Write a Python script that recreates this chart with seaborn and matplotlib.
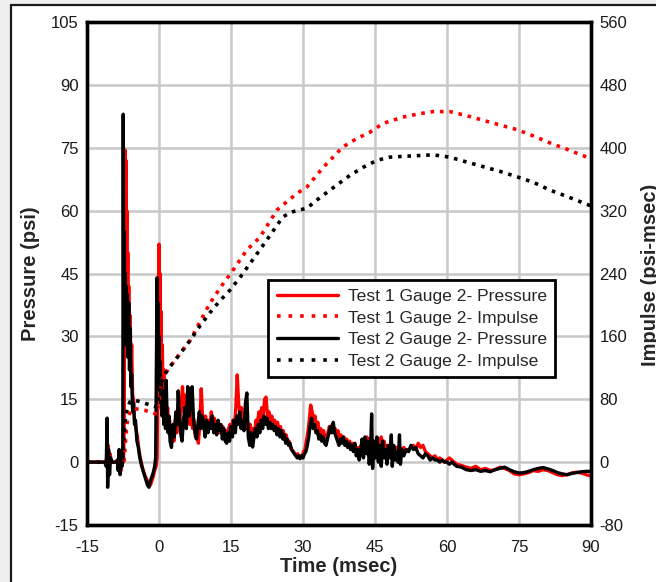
import matplotlib
matplotlib.use("Agg")
import matplotlib.pyplot as plt
from matplotlib.patches import Rectangle
from matplotlib.lines import Line2D
import seaborn as sns
import pandas as pd

# ---------------- data ----------------
t2_time = [-15, -11.3, -11.0, -10.8, -10.7, -10.5, -10.3, -10.1, -9.8, -9.0, -8.7, -8.5, -8.3, -8.1, -7.9, -7.7, -7.55,
           -7.45, -7.35, -7.25, -7.15, -7.05, -6.95, -6.85, -6.75, -6.6, -6.45, -6.3, -6.15, -6.0, -5.85, -5.7, -5.5, -5.3,
           -5.1, -4.9, -4.6, -4.3, -4.0, -3.6, -3.2, -2.8, -2.4, -2.1, -1.8, -1.5, -1.2, -0.9, -0.7,
           -0.6, -0.5, -0.4, -0.3, -0.2, -0.1, 0.0, 0.1, 0.2, 0.35, 0.5, 0.65, 0.8, 1.0, 1.2, 1.35, 1.5, 1.7, 1.9, 2.1,
           2.3, 2.6, 2.9, 3.2, 3.5, 3.8, 4.0, 4.2, 4.5, 4.8, 5.1, 5.4, 5.7, 6.0, 6.3, 6.6, 6.9, 7.2, 7.5, 7.8, 8.1, 8.4,
           8.7, 9.0, 9.3, 9.6, 9.9, 10.2, 10.5, 10.8, 11.1, 11.4, 11.7, 12.0, 12.3, 12.6, 12.9, 13.2, 13.5, 13.8, 14.1,
           14.4, 14.7, 15.0, 15.3, 15.6, 15.9, 16.2, 16.5, 16.8, 17.1, 17.4, 17.7, 18.0, 18.3, 18.6, 18.9, 19.2, 19.5,
           19.8, 20.1, 20.4, 20.7, 21.0, 21.3, 21.6, 21.9, 22.2, 22.5, 22.8, 23.1, 23.4, 23.7, 24.0, 24.3, 24.6, 24.9,
           25.2, 25.5, 25.8, 26.1, 26.4, 26.7, 27.0, 27.3, 27.6, 27.9, 28.2, 28.5, 28.8, 29.1, 29.4, 29.7, 30.0, 30.3,
           30.6, 30.9, 31.2, 31.5, 31.8, 32.1, 32.4, 32.7, 33.0, 33.3, 33.6, 33.9, 34.2, 34.5, 34.8, 35.1, 35.4, 35.7,
           36.0, 36.3, 36.6, 36.9, 37.2, 37.5, 37.8, 38.1, 38.4, 38.7, 39.0, 39.3, 39.6, 39.9, 40.2, 40.5, 40.8, 41.1,
           41.4, 41.7, 42.0, 42.3, 42.6, 42.9, 43.2, 43.5, 43.8, 44.1, 44.3, 44.5, 44.8, 45.1, 45.4, 45.7, 46.0, 46.3,
           46.6, 46.9, 47.2, 47.5, 47.8, 48.1, 48.4, 48.6, 48.9, 49.2, 49.5, 49.8, 50.1, 50.3, 50.6, 51.0, 51.5, 52.0,
           52.5, 53.0, 53.5, 54.0, 54.5, 55.0, 55.5, 56.0, 56.5, 57.0, 57.5, 58.0, 58.5, 59.0, 59.5, 60.0, 60.5, 61,
           61.5, 62, 63, 64, 65, 66, 67, 68, 69, 70, 71, 72, 73, 74, 75, 76, 77, 78, 79, 80, 81, 82, 83, 84, 85, 86,
           87, 88, 89, 90]
t2_pressure = [0, 0, -1, 10.5, -6, 3, -3, 1, 0, 0, 0.5, -2, 3, -3, 2, -1, 1,
               83, 30, 55, 35, 45, 28, 42, 30, 40, 25, 38, 22, 32, 18, 21, 12, 14,
               9, 10, 5, 3.5, 1, -1, -2.5, -4, -5.5, -6, -4.5, -3.5, -2.5, -1, 1,
               16, 32, 44, 30, 38, 22, 30, 18, 24, 14, 20, 11, 17, 9, 13, 8, 19.5, 10, 7, 11,
               5, 3.5, 9, 6, 12, 9, 17, 12, 7, 5, 10, 13, 8, 18, 11, 15, 18, 10, 7, 5.5, 9, 12,
               8, 11, 9, 6, 10, 7, 9.5, 8, 11, 7, 9, 6.5, 10, 7.5, 9, 5.5, 8, 5, 4.5,
               7, 5, 8.5, 6, 10, 7, 11, 9, 12, 8, 10, 7.5, 14, 16.5, 6, 4, 7, 3.6,
               6, 8, 6, 9, 7, 10, 8, 11, 9, 10.5, 8, 9.5, 8, 9, 7.5, 8.5, 6.5, 8,
               6, 7.5, 5.5, 6.5, 4.5, 5.5, 4, 4.5, 3, 2.5, 2, 1.5, 1, 1.5, 0.8, 1.5, 1, 2,
               2.5, 4, 6, 9, 10.5, 8, 9, 7, 7.5, 5.5, 6.5, 5, 6, 4.5, 4, 5.5, 7, 8.5,
               7, 9.5, 7, 6, 5, 4, 5.5, 4.5, 6, 4, 5, 3.5, 4.5, 3, 4, 2.5, 4.5, 1.5,
               3, 0.5, 2.5, 5.5, 1, 6, 2, 5, -0.5, 4, 11.5, -1.5, 5, 1, 6, 0, 4, -1,
               5, 1, 3, -0.5, 4, 1, 6.5, -1, 4, 0.5, 2.5, 0, 6.5, -0.5, 3, 1.5, 3, 2.5,
               4, 3, 3.5, 2, 1.5, 1, 2, 1.5, 0.5, 1, 0.5, 0.5, 0, 0.5, 0, 0, -0.5, 0,
               -0.5, -1, -1.2, -1.8, -2, -1.8, -2.2, -2, -2.3, -1.8, -1.5, -1.2, -1.8, -2.3, -2.6, -2.5, -2.2, -1.8,
               -1.5, -1.3, -1.6, -2, -2.5, -2.8, -3, -2.7, -2.5, -2.3, -2.2, -2.2]

t1_time = [-15, -11, -10.6, -10.4, -10.2, -9.9, -8.5, -8.2, -7.9, -7.6, -7.4, -7.25,
           -7.1, -7.0, -6.9, -6.8, -6.7, -6.6, -6.5, -6.4, -6.3, -6.15, -6.0, -5.85, -5.7, -5.5, -5.3, -5.1, -4.8,
           -4.5, -4.2, -3.8, -3.4, -3.0, -2.6, -2.2, -1.8, -1.5, -1.2, -0.9, -0.6, -0.4,
           -0.25, -0.1, 0.0, 0.1, 0.2, 0.3, 0.4, 0.55, 0.7, 0.85, 1.0, 1.2, 1.4, 1.6, 1.8, 2.0, 2.2, 2.5, 2.8, 3.1,
           3.4, 3.7, 4.0, 4.3, 4.6, 4.9, 5.2, 5.5, 5.8, 6.1, 6.4, 6.7, 7.0, 7.3, 7.6, 7.9, 8.2, 8.5, 8.8, 9.1, 9.4,
           9.7, 10.0, 10.3, 10.6, 10.9, 11.2, 11.5, 11.8, 12.1, 12.4, 12.7, 13.0, 13.3, 13.6, 13.9, 14.2, 14.5, 14.8,
           15.1, 15.4, 15.7, 16.0, 16.3, 16.6, 16.9, 17.2, 17.5, 17.8, 18.1, 18.4, 18.7, 19.0, 19.3, 19.6, 19.9, 20.2,
           20.5, 20.8, 21.1, 21.4, 21.7, 22.0, 22.3, 22.6, 22.9, 23.2, 23.5, 23.8, 24.1, 24.4, 24.7, 25.0, 25.3, 25.6,
           25.9, 26.2, 26.5, 26.8, 27.1, 27.4, 27.7, 28.0, 28.3, 28.6, 28.9, 29.2, 29.5, 29.8, 30.1, 30.4, 30.7, 31.0,
           31.3, 31.6, 31.9, 32.2, 32.5, 32.8, 33.1, 33.4, 33.7, 34.0, 34.3, 34.6, 34.9, 35.2, 35.5, 35.8, 36.1, 36.4,
           36.7, 37.0, 37.3, 37.6, 37.9, 38.2, 38.5, 38.8, 39.1, 39.4, 39.7, 40.0, 40.3, 40.6, 40.9, 41.2, 41.5, 41.8,
           42.1, 42.4, 42.7, 43.0, 43.3, 43.6, 43.9, 44.2, 44.5, 44.8, 45.1, 45.4, 45.7, 46.0, 46.3, 46.6, 46.9, 47.2,
           47.5, 47.8, 48.1, 48.4, 48.7, 49, 49.5, 50, 50.5, 51, 51.5, 52, 52.5, 53, 53.5, 54, 54.5, 55, 55.5, 56,
           56.5, 57, 57.5, 58, 58.5, 59, 59.5, 60, 60.5, 61, 61.5, 62, 63, 64, 65, 66, 67, 68, 69, 70, 71, 72, 73, 74,
           75, 76, 77, 78, 79, 80, 81, 82, 83, 84, 85, 86, 87, 88, 89, 90]
t1_pressure = [0, 0, 4, -2, 2, 0, 0, 2, -2, 3, 0, 8,
               74.5, 50, 72, 45, 60, 38, 50, 32, 42, 28, 35, 22, 28, 16, 14.8, 10, 8,
               6, 3, 0.5, -1.5, -3, -4, -5, -5.5, -4.5, -3.5, -2, -1, 1,
               20, 40, 52, 35, 45, 28, 36, 20, 28, 15, 22, 12, 16, 9, 13, 7, 10, 4.5, 8, 5,
               10, 7, 12, 9, 14, 18, 12, 16, 10, 13, 9, 12, 8, 10, 6, 8, 4.5, 9, 17.5, 10, 8,
               11, 7.5, 10, 8, 12, 9, 10.5, 8, 9.5, 7, 9, 7, 8.5, 6, 7.5, 6, 8, 9,
               7, 10, 8, 13, 20.8, 14, 11, 13, 9, 11, 8, 10, 7, 9, 6, 8, 7, 10,
               9, 12, 10, 13, 11, 15, 15.5, 11, 12, 10, 11, 9, 10, 8.5, 9.5, 7.5, 8.5, 6.5,
               7.5, 5.5, 6.5, 4.5, 5, 3.5, 3, 2.5, 2, 1.5, 2, 1, 1.5, 1.2, 2.5, 3, 5, 7,
               10, 13.6, 12, 10, 11, 8.5, 9.5, 7, 8, 6, 7.5, 5.5, 6, 7, 8.5, 7, 9, 7.5,
               8, 6.6, 7.5, 5.5, 6.5, 5, 6, 4.5, 5.5, 4, 5, 3.5, 4.5, 3, 4, 2.5, 3.5, 2,
               4, 3, 5, 3.5, 6, 4, 5.5, 3, 5, 2.5, 4.5, 3, 5.5, 3.5, 6, 4, 5, 3,
               4, 2.5, 3.5, 2, 3, 2.5, 3.5, 2.5, 3, 3.5, 2.5, 3, 3.5, 4, 3, 4.5, 3.5, 4, 2.5, 2,
               1.5, 1, 1.5, 0.5, 1, 0.5, 0, 0.5, 1, 0.5, 0, -0.5, -0.8, -1.2, -1.5, -1, -1.8, -1.5, -2, -1.8, -1.2, -1.5, -2, -2.8,
               -3, -2.8, -2.5, -2, -2.2, -1.8, -2, -2.5, -3, -3.2, -3, -2.6, -2.4, -2.6, -3, -3.3]

imp1_time = [-15, -7.3, -7.0, -6.7, -6.3, -5.8, -5.0, -4.0, -3.0, -2.0, -1.0, -0.4, 0.0, 0.4, 0.8, 2.0, 3.5,
             5.0, 6.5, 8.5, 10.6, 13.0, 15.4, 18.3, 21.0, 24.6, 28.75, 30.8, 34.2, 38.3, 41.0, 44.0, 46.7,
             50.8, 54.0, 57.1, 60.6, 64.0, 67.5, 71.0, 74.6, 78.0, 81.5, 85.0, 90.0]
imp1_value = [0, 0, 25, 48, 60, 66, 68, 67, 66, 64, 62, 61, 78, 98, 108, 119, 131,
              143, 155, 178, 202, 224, 244, 270, 286, 321, 342, 350, 375, 401, 411, 420, 431,
              439, 443, 446, 446, 441, 435, 429, 423, 415, 406, 398, 386]

imp2_time = [-15, -7.6, -7.3, -7.0, -6.6, -6.0, -5.2, -4.0, -3.0, -2.0, -1.0, -0.5, -0.2, 0.3, 0.8, 2.0,
             3.5, 5.0, 6.5, 8.5, 10.6, 12.5, 14.8, 17.0, 19.0, 22.5, 25.8, 27.5, 29.4, 30.8, 33.0, 35.6,
             39.8, 42.5, 45.4, 48.0, 50.8, 54.0, 57.1, 60.6, 64.0, 67.5, 71.0, 74.6, 78.0, 81.5, 85.0, 90.0]
imp2_value = [0, 0, 30, 55, 70, 77, 79, 77, 75, 73, 71, 70, 80, 98, 108, 119,
              131, 143, 155, 173, 190, 204, 219, 236, 253, 283, 312, 318, 321, 323, 334, 346,
              365, 375, 384, 388, 389, 390, 391, 388, 382, 376, 370, 363, 356, 346, 338, 326]

x_ticks = [-15, 0, 15, 30, 45, 60, 75, 90]
p_ticks = [-15, 0, 15, 30, 45, 60, 75, 90, 105]
i_ticks = [-80, 0, 80, 160, 240, 320, 400, 480, 560]
labels = ["Test 1 Gauge 2- Pressure", "Test 1 Gauge 2- Impulse",
          "Test 2 Gauge 2- Pressure", "Test 2 Gauge 2- Impulse"]

# ---------------- figure ----------------
sns.set_style("white")
plt.rcParams['font.family'] = ['Liberation Sans', 'DejaVu Sans']

W, H = 656, 582
fig = plt.figure(figsize=(W / 100, H / 100), dpi=100)
fig.patch.set_facecolor('#efefef')
fig.add_artist(Rectangle((11 / W, -0.1), 1.2, 1.1 - 5 / H, transform=fig.transFigure,
                         facecolor='white', edgecolor='#1a1a1a', lw=1.6, zorder=-10))

ax = fig.add_axes([87 / W, 57 / H, 504 / W, 503 / H])
ax.set_facecolor('none')
ax2 = ax.twinx()

df_p1 = pd.DataFrame({"t": t1_time, "v": t1_pressure})
df_p2 = pd.DataFrame({"t": t2_time, "v": t2_pressure})
df_i1 = pd.DataFrame({"t": imp1_time, "v": imp1_value})
df_i2 = pd.DataFrame({"t": imp2_time, "v": imp2_value})

sns.lineplot(data=df_p1, x="t", y="v", ax=ax, color='#ff0000', lw=2.4, sort=False,
             estimator=None, legend=False, zorder=3)
sns.lineplot(data=df_p2, x="t", y="v", ax=ax, color='black', lw=2.4, sort=False,
             estimator=None, legend=False, zorder=4)
dot = (0, (1.0, 1.6))
sns.lineplot(data=df_i1, x="t", y="v", ax=ax2, color='#ff0000', lw=2.6, sort=False,
             estimator=None, legend=False, linestyle=dot)
sns.lineplot(data=df_i2, x="t", y="v", ax=ax2, color='black', lw=2.6, sort=False,
             estimator=None, legend=False, linestyle=dot)

ax.set_xlim(-15, 90)
ax.set_ylim(-15, 105)
ax2.set_ylim(-80, 560)
ax.set_xticks(x_ticks)
ax.set_yticks(p_ticks)
ax2.set_yticks(i_ticks)
ax.set_xticklabels([str(v) for v in x_ticks])
ax.set_yticklabels([str(v) for v in p_ticks])
ax2.set_yticklabels([str(v) for v in i_ticks])

ax.grid(True, color='#c8c8c8', lw=1.8)
ax.set_axisbelow(True)
ax2.grid(False)

for a in (ax, ax2):
    for s in a.spines.values():
        s.set_visible(True)
        s.set_color('black')
        s.set_linewidth(2.4)
ax.tick_params(axis='both', length=0, labelsize=12, colors='#1a1a1a')
ax.tick_params(axis='x', pad=11)
ax.tick_params(axis='y', pad=6)
ax2.tick_params(axis='y', length=0, labelsize=12, colors='#1a1a1a', pad=6)

ax.set_xlabel("Time (msec)", fontsize=14.5, fontweight='bold', labelpad=1)
ax.set_ylabel("Pressure (psi)", fontsize=14.5, fontweight='bold', labelpad=8)
ax2.set_ylabel("")
fig.text(650 / W, 1 - 275 / H, "Impulse (psi-msec)", rotation=90, ha='center', va='center',
         fontsize=14.5, fontweight='bold')

handles = [Line2D([], [], color='#ff0000', lw=2.4),
           Line2D([], [], color='#ff0000', lw=2.6, linestyle=(0, (1.0, 2.2))),
           Line2D([], [], color='black', lw=2.4),
           Line2D([], [], color='black', lw=2.6, linestyle=(0, (1.0, 2.2)))]
leg = ax2.legend(handles, labels, loc='upper left', bbox_to_anchor=(0.359, 0.487),
                 fontsize=12.6, frameon=True, fancybox=False, framealpha=1,
                 edgecolor='black', handlelength=3.5, handletextpad=0.55,
                 labelspacing=0.36, borderpad=0.5, borderaxespad=0)
leg.get_frame().set_linewidth(2.0)
leg.set_zorder(10)

fig.savefig("out.png", dpi=100)
